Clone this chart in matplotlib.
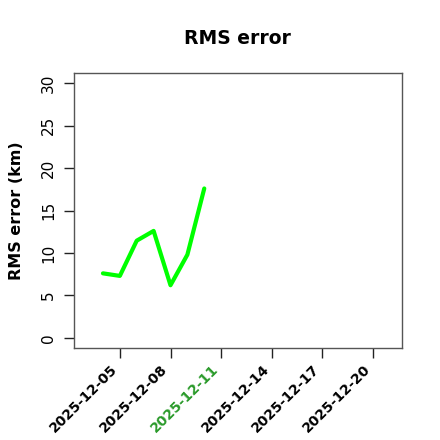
import numpy as np
import matplotlib
matplotlib.use("Agg")
import matplotlib.pyplot as plt
import matplotlib.dates as mdates
import matplotlib.transforms as mtransforms

dates = np.array(["2025-12-04", "2025-12-05", "2025-12-06", "2025-12-07",
                  "2025-12-08", "2025-12-09", "2025-12-10"], dtype="datetime64[D]")
rms = [7.6, 7.3, 11.45, 12.6, 6.2, 9.8, 17.6]
tick_dates = np.array(["2025-12-05", "2025-12-08", "2025-12-11",
                       "2025-12-14", "2025-12-17", "2025-12-20"], dtype="datetime64[D]")
today = "2025-12-11"
yticks = [0, 5, 10, 15, 20, 25, 30]

fig = plt.figure(figsize=(4.4, 4.4), dpi=100)
ax = fig.add_axes([0.168, 0.209, 0.746, 0.625])

x = mdates.date2num(dates)
ax.plot(x, rms, color="#00ff00", lw=3, solid_capstyle="round", solid_joinstyle="round")

x0 = mdates.date2num(np.datetime64("2025-12-03"))
x1 = mdates.date2num(np.datetime64("2025-12-21"))
pad = (x1 - x0) * 0.04
ax.set_xlim(x0 - pad, x1 + pad)
ax.set_ylim(-1.2, 31.2)

ax.set_xticks(mdates.date2num(tick_dates))
ax.set_xticklabels([str(d) for d in tick_dates], rotation=45, ha="right",
                   fontweight="bold", fontsize=10)
shift = mtransforms.ScaledTranslation(3 / 100, 0, fig.dpi_scale_trans)
for lab in ax.get_xticklabels():
    lab.set_transform(lab.get_transform() + shift)
    if lab.get_text() == today:
        lab.set_color("#2a9a2a")

ax.set_yticks(yticks)
ax.set_yticklabels([str(v) for v in yticks], rotation=90, va="center", fontsize=11)
ax.tick_params(axis="both", length=7, width=1, color="#222222")
ax.tick_params(axis="y", pad=6)
ax.tick_params(axis="x", pad=3)

for s in ax.spines.values():
    s.set_color("#555555")
    s.set_linewidth(1)

ax.set_ylabel("RMS error (km)", fontweight="bold", fontsize=11.5, labelpad=12)
fig.text(0.54, 0.913, "RMS error", ha="center", va="center", fontweight="bold", fontsize=13.5)

fig.savefig("out.png", dpi=100)
